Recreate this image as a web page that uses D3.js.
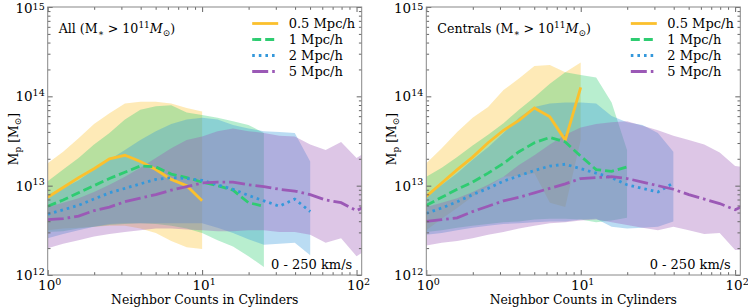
<!DOCTYPE html>
<html>
<head>
<meta charset="utf-8">
<script src="https://cdn.jsdelivr.net/npm/d3@7"></script>
<style>
body { margin: 0; background: #fff; }
svg text { font-family: "DejaVu Serif", serif; fill: #000; }
</style>
</head>
<body>
<svg id="chart" width="748" height="308"></svg>
<script>
// neighbor count bins (0.1 dex)
var xBins = [1, 1.259, 1.585, 1.995, 2.512, 3.162, 3.981, 5.012, 6.310, 7.943, 10,
  12.59, 15.85, 19.95, 25.12, 31.62, 39.81, 50.12, 63.10, 79.43, 100, 125.9];

var radii = ['0.5 Mpc/h', '1 Mpc/h', '2 Mpc/h', '5 Mpc/h'];

// log10 Mp, "All" panel
var allMed05 = [12.87, 12.98, 13.09, 13.19, 13.30, 13.34, 13.27, 13.18, 13.07, 13.00, 12.83];
var allLo05  = [12.50, 12.52, 12.53, 12.54, 12.55, 12.55, 12.52, 12.47, 12.38, 12.31, 12.29];
var allHi05  = [13.25, 13.38, 13.53, 13.69, 13.81, 13.92, 13.94, 13.94, 13.92, 13.87, 13.83];

var allMed1 = [12.77, 12.84, 12.92, 13.00, 13.08, 13.15, 13.22, 13.21, 13.13, 13.09, 13.04, 13.00, 12.95, 12.81, 12.77];
var allLo1  = [12.48, 12.49, 12.52, 12.54, 12.56, 12.57, 12.58, 12.57, 12.55, 12.52, 12.47, 12.39, 12.32, 12.21, 12.09];
var allHi1  = [13.05, 13.18, 13.31, 13.46, 13.59, 13.74, 13.85, 13.89, 13.90, 13.82, 13.79, 13.76, 13.72, 13.68, 13.59];

var allMed2 = [12.68, 12.73, 12.78, 12.85, 12.92, 12.97, 13.02, 13.07, 13.09, 13.08, 13.06, 13.01, 12.96, 12.89, 12.83, 12.77, 12.85, 12.71];
var allLo2  = [12.41, 12.46, 12.50, 12.54, 12.57, 12.58, 12.58, 12.58, 12.58, 12.58, 12.58, 12.53, 12.47, 12.40, 12.34, 12.35, 12.36, 12.22];
var allHi2  = [12.90, 12.97, 13.06, 13.18, 13.29, 13.40, 13.51, 13.61, 13.69, 13.74, 13.76, 13.74, 13.68, 13.64, 13.61, 13.60, 13.59, 13.27];

var allMed5 = [12.62, 12.63, 12.66, 12.72, 12.76, 12.82, 12.86, 12.90, 12.95, 12.99, 13.03, 13.04, 13.04, 13.01, 12.99, 12.96, 12.94, 12.90, 12.84, 12.81, 12.72, 12.81];
var allLo5  = [12.30, 12.35, 12.39, 12.43, 12.46, 12.48, 12.50, 12.52, 12.52, 12.51, 12.50, 12.49, 12.49, 12.50, 12.50, 12.48, 12.48, 12.45, 12.36, 12.41, 12.21, 12.32];
var allHi5  = [12.76, 12.81, 12.86, 12.93, 13.01, 13.10, 13.20, 13.31, 13.42, 13.51, 13.55, 13.61, 13.64, 13.61, 13.59, 13.56, 13.55, 13.46, 13.40, 13.49, 13.31, 13.42];

// log10 Mp, "Centrals" panel
var cenMed05 = [12.88, 13.03, 13.18, 13.32, 13.48, 13.62, 13.73, 13.87, 13.77, 13.51, 14.10];
var cenLo05  = [12.50, 12.63, 12.75, 12.88, 12.99, 13.10, 13.11, 13.14, 12.81, 12.76, 13.51];
var cenHi05  = [13.25, 13.42, 13.60, 13.76, 13.88, 14.07, 14.20, 14.34, 14.35, 14.27, 14.38];

var cenMed1 = [12.78, 12.87, 12.96, 13.04, 13.14, 13.25, 13.38, 13.48, 13.54, 13.49, 13.33, 13.18, 13.16, 13.21];
var cenLo1  = [12.48, 12.50, 12.53, 12.55, 12.57, 12.59, 12.60, 12.62, 12.63, 12.63, 12.62, 12.59, 12.61, 12.64];
var cenHi1  = [13.10, 13.20, 13.32, 13.45, 13.57, 13.70, 13.85, 13.99, 14.14, 14.27, 14.24, 14.21, 13.93, 13.40];

var cenMed2 = [12.69, 12.75, 12.82, 12.90, 12.97, 13.05, 13.11, 13.17, 13.22, 13.24, 13.19, 13.14, 13.09, 13.01, 12.97, 12.93, 13.03];
var cenLo2  = [12.45, 12.47, 12.50, 12.53, 12.55, 12.57, 12.58, 12.59, 12.60, 12.60, 12.62, 12.63, 12.54, 12.52, 12.53, 12.54, 12.60];
var cenHi2  = [12.90, 13.01, 13.14, 13.29, 13.43, 13.59, 13.76, 13.88, 13.92, 13.93, 13.93, 13.92, 13.78, 13.71, 13.68, 13.59, 13.38];

var cenMed5 = [12.60, 12.62, 12.64, 12.71, 12.77, 12.83, 12.87, 12.92, 12.97, 13.02, 13.08, 13.09, 13.10, 13.08, 13.04, 13.00, 12.96, 12.90, 12.85, 12.80, 12.73, 12.81];
var cenLo5  = [12.33, 12.36, 12.38, 12.41, 12.45, 12.48, 12.52, 12.55, 12.58, 12.59, 12.61, 12.62, 12.59, 12.56, 12.53, 12.50, 12.54, 12.50, 12.46, 12.47, 12.28, 12.28];
var cenHi5  = [12.76, 12.81, 12.86, 12.93, 13.01, 13.10, 13.23, 13.34, 13.46, 13.57, 13.65, 13.69, 13.71, 13.72, 13.67, 13.62, 13.56, 13.51, 13.46, 13.37, 13.22, 13.20];

var colors = ['#fbc02d', '#2ecc71', '#3498db', '#9b59b6'];
var dashes = [null, '9,4', '2.6,4', '16,4,2.6,4'];

var svg = d3.select('#chart');
var top0 = 7, bottom0 = 275, panelW = 314;

var panels = [
  {x0: 47.7, label: 'All', med: [allMed05, allMed1, allMed2, allMed5], lo: [allLo05, allLo1, allLo2, allLo5], hi: [allHi05, allHi1, allHi2, allHi5]},
  {x0: 426.3, label: 'Centrals', med: [cenMed05, cenMed1, cenMed2, cenMed5], lo: [cenLo05, cenLo1, cenLo2, cenLo5], hi: [cenHi05, cenHi1, cenHi2, cenHi5]}
];

var yScale = d3.scaleLog().domain([1e12, 1e15]).range([bottom0, top0]);

function supText(sel, base, exp, rise) {
  sel.append('tspan').text(base);
  sel.append('tspan').attr('dy', -rise).attr('font-size', 9.5).text(exp);
}

panels.forEach(function(p, pi) {
  var xScale = d3.scaleLog().domain([1, 108]).range([p.x0, p.x0 + panelW]);
  var g = svg.append('g');

  var clipId = 'clip' + pi;
  svg.append('clipPath').attr('id', clipId).append('rect')
    .attr('x', p.x0).attr('y', top0).attr('width', panelW).attr('height', bottom0 - top0);

  var data = g.append('g').attr('clip-path', 'url(#' + clipId + ')');

  // bands
  p.med.forEach(function(m, si) {
    var area = d3.area()
      .x(function(d, i) { return xScale(xBins[i]); })
      .y0(function(d, i) { return yScale(Math.pow(10, p.lo[si][i])); })
      .y1(function(d, i) { return yScale(Math.pow(10, p.hi[si][i])); });
    data.append('path').datum(m).attr('d', area)
      .attr('fill', colors[si]).attr('fill-opacity', 0.34).attr('stroke', 'none');
  });

  // median lines
  p.med.forEach(function(m, si) {
    var line = d3.line()
      .x(function(d, i) { return xScale(xBins[i]); })
      .y(function(d) { return yScale(Math.pow(10, d)); });
    data.append('path').datum(m).attr('d', line)
      .attr('fill', 'none').attr('stroke', colors[si]).attr('stroke-width', 2.8)
      .attr('stroke-dasharray', dashes[si]);
  });

  // ticks (inward, all four sides)
  var xMajor = [1, 10, 100];
  var xMinor = [];
  [1, 10].forEach(function(dec) { for (var k = 2; k <= 9; k++) xMinor.push(dec * k); });
  var yMajor = [1e12, 1e13, 1e14, 1e15];
  var yMinor = [];
  [1e12, 1e13, 1e14].forEach(function(dec) { for (var k = 2; k <= 9; k++) yMinor.push(dec * k); });

  function addAxis(axis, tr) {
    var a = g.append('g').attr('transform', tr).call(axis);
    a.select('.domain').remove();
    a.selectAll('.tick line').attr('stroke', '#666');
    a.selectAll('text').remove();
  }
  [[xMajor, 5], [xMinor, 2.8]].forEach(function(t) {
    addAxis(d3.axisBottom(xScale).tickValues(t[0]).tickSize(-t[1]), 'translate(0,' + bottom0 + ')');
    addAxis(d3.axisTop(xScale).tickValues(t[0]).tickSize(-t[1]), 'translate(0,' + top0 + ')');
  });
  [[yMajor, 5], [yMinor, 2.8]].forEach(function(t) {
    addAxis(d3.axisLeft(yScale).tickValues(t[0]).tickSize(-t[1]), 'translate(' + p.x0 + ',0)');
    addAxis(d3.axisRight(yScale).tickValues(t[0]).tickSize(-t[1]), 'translate(' + (p.x0 + panelW) + ',0)');
  });

  // frame
  g.append('rect').attr('x', p.x0).attr('y', top0).attr('width', panelW).attr('height', bottom0 - top0)
    .attr('fill', 'none').attr('stroke', '#888').attr('stroke-width', 1);

  // tick labels
  yMajor.forEach(function(v) {
    var isTop = v === 1e15;
    var t = g.append('text').attr('x', p.x0 - 3).attr('y', yScale(v) + (isTop ? 6 : 5))
      .attr('text-anchor', 'end').attr('font-size', 13.5);
    supText(t, '10', String(Math.round(Math.log10(v))), isTop ? 3.5 : 5.5);
  });
  xMajor.forEach(function(v) {
    var t = g.append('text').attr('x', xScale(v) + 2).attr('y', 290)
      .attr('text-anchor', 'middle').attr('font-size', 13.5);
    supText(t, '10', String(Math.round(Math.log10(v))), 5.5);
  });

  // axis titles
  g.append('text').attr('x', p.x0 + panelW / 2).attr('y', 303.5)
    .attr('text-anchor', 'middle').attr('font-size', 12.4).text('Neighbor Counts in Cylinders');

  var yl = g.append('text').attr('transform', 'translate(' + (p.x0 - 30) + ',139) rotate(-90)')
    .attr('text-anchor', 'middle').attr('font-size', 12.4);
  yl.append('tspan').text('M');
  yl.append('tspan').attr('dy', 3).attr('font-size', 9).text('p');
  yl.append('tspan').attr('dy', -3).text(' [M');
  yl.append('tspan').attr('dy', 3).attr('font-size', 9).text('\u2299');
  yl.append('tspan').attr('dy', -3).text(']');

  // panel title
  var tt = g.append('text').attr('x', p.x0 + 11).attr('y', 33).attr('font-size', 12.6);
  tt.append('tspan').text(p.label + ' (M');
  tt.append('tspan').attr('dy', 2.5).attr('font-size', 9).text('\u2217');
  tt.append('tspan').attr('dy', -2.5).text(' > 10');
  tt.append('tspan').attr('dy', -5.5).attr('font-size', 9).text('11');
  tt.append('tspan').attr('dy', 5.5).attr('font-style', 'italic').text('M');
  tt.append('tspan').attr('dy', 2.5).attr('font-size', 9).text('\u2299');
  tt.append('tspan').attr('dy', -2.5).text(')');

  // velocity cut
  g.append('text').attr('x', p.x0 + panelW - 9.5).attr('y', 269)
    .attr('text-anchor', 'end').attr('font-size', 13).text('0 - 250 km/s');

  // legend
  var leg = g.append('g').attr('transform', 'translate(' + (p.x0 + 204.5) + ',23.5)');
  radii.forEach(function(r, si) {
    var row = leg.append('g').attr('transform', 'translate(0,' + (si * 16) + ')');
    row.append('line').attr('x1', 0).attr('x2', 26).attr('y1', 0).attr('y2', 0)
      .attr('stroke', colors[si]).attr('stroke-width', 2.8).attr('stroke-dasharray', dashes[si]);
    row.append('text').attr('x', 36.5).attr('y', 4.8).attr('font-size', 13).text(r);
  });
});
</script>
</body>
</html>
